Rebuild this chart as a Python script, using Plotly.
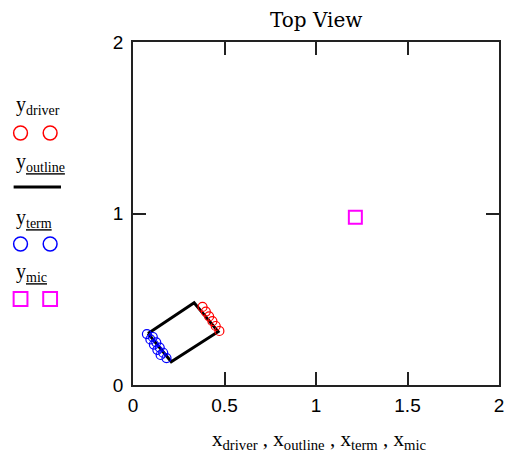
import plotly.graph_objects as go

# Loudspeaker top view: driver positions, cabinet outline, terminals, microphone (metres)
x_driver = [0.380, 0.398, 0.416, 0.434, 0.452, 0.472]
y_driver = [0.455, 0.428, 0.400, 0.372, 0.344, 0.315]

x_outline = [0.082, 0.334, 0.465, 0.209, 0.082]
y_outline = [0.301, 0.480, 0.311, 0.136, 0.301]

x_term = [0.076, 0.095, 0.114, 0.133, 0.151, 0.108, 0.127, 0.146, 0.165, 0.183]
y_term = [0.297, 0.266, 0.236, 0.205, 0.175, 0.280, 0.249, 0.218, 0.188, 0.157]

x_mic = [1.215]
y_mic = [0.978]

x_ticks = [0, 0.5, 1, 1.5, 2]
x_ticktext = ["0", "0.5", "1", "1.5", "2"]
y_ticks = [0, 1, 2]
y_ticktext = ["0", "1", "2"]

RED, BLUE, MAGENTA = "#ff0000", "#0000ff", "#ff00ff"
SERIF = "Liberation Serif"

W, H = 509, 457
ML, MR, MT, MB = 133, 5, 42, 72
PW, PH = W - ML - MR, H - MT - MB

fig = go.Figure()
fig.add_trace(go.Scatter(x=x_outline, y=y_outline, mode="lines",
                         line=dict(color="black", width=3)))
fig.add_trace(go.Scatter(x=x_driver, y=y_driver, mode="markers",
                         marker=dict(symbol="circle-open", size=9, color=RED,
                                     line=dict(width=1.2, color=RED))))
fig.add_trace(go.Scatter(x=x_term, y=y_term, mode="markers",
                         marker=dict(symbol="circle-open", size=9, color=BLUE,
                                     line=dict(width=1.2, color=BLUE))))
fig.add_trace(go.Scatter(x=x_mic, y=y_mic, mode="markers",
                         marker=dict(symbol="square-open", size=13, color=MAGENTA,
                                     line=dict(width=2, color=MAGENTA))))


def px(xp):
    return (xp - ML) / PW


def py(yp):
    return (H - MB - yp) / PH


shapes = []
annotations = []

# Left-hand legend, one label and one sample per series
legend_rows = [
    ("y<sub>driver</sub>", 105, "circle", RED, 133),
    ("y<sub><u>outline</u></sub>", 162, "line", "black", 187),
    ("y<sub><u>term</u></sub>", 218, "circle", BLUE, 244),
    ("y<sub><u>mic</u></sub>", 272, "square", MAGENTA, 299),
]
for label, ty, kind, color, gy in legend_rows:
    annotations.append(dict(text=label, x=px(12), y=py(ty), xref="paper", yref="paper",
                            xanchor="left", yanchor="middle", showarrow=False,
                            font=dict(family=SERIF, size=20, color="black")))
    if kind == "line":
        shapes.append(dict(type="line", xref="paper", yref="paper",
                           x0=px(12), x1=px(60), y0=py(gy), y1=py(gy),
                           line=dict(color=color, width=3)))
    else:
        for cx in (19, 49):
            shapes.append(dict(type="circle" if kind == "circle" else "rect",
                               xref="paper", yref="paper",
                               x0=px(cx - 7), x1=px(cx + 7),
                               y0=py(gy + 7), y1=py(gy - 7),
                               line=dict(color=color, width=1.5 if kind == "circle" else 2)))

annotations.append(dict(text="Top View", x=0.5, y=py(20), xref="paper", yref="paper",
                        xanchor="center", yanchor="middle", showarrow=False,
                        font=dict(family="DejaVu Serif", size=20, color="black")))
annotations.append(dict(
    text="x<sub>driver</sub> , x<sub>outline</sub> , x<sub>term</sub> , x<sub>mic</sub>",
    x=px(322), y=py(440), xref="paper", yref="paper",
    xanchor="center", yanchor="middle", showarrow=False,
    font=dict(family=SERIF, size=21, color="black")))

axis_common = dict(range=[0, 2], showgrid=False, zeroline=False, showline=True,
                   mirror="ticks", linecolor="#222222", linewidth=1.5,
                   ticks="inside", ticklen=13, tickwidth=1.5, tickcolor="#222222",
                   tickfont=dict(family="Liberation Sans", size=19, color="black"))

fig.update_layout(
    width=W, height=H, margin=dict(l=ML, r=MR, t=MT, b=MB),
    paper_bgcolor="white", plot_bgcolor="white", showlegend=False,
    xaxis=dict(**axis_common, tickvals=x_ticks, ticktext=x_ticktext, ticklabelstandoff=2),
    yaxis=dict(**axis_common, tickvals=y_ticks, ticktext=y_ticktext, ticklabelstandoff=4),
    shapes=shapes, annotations=annotations,
)

fig.write_html("out.html")
